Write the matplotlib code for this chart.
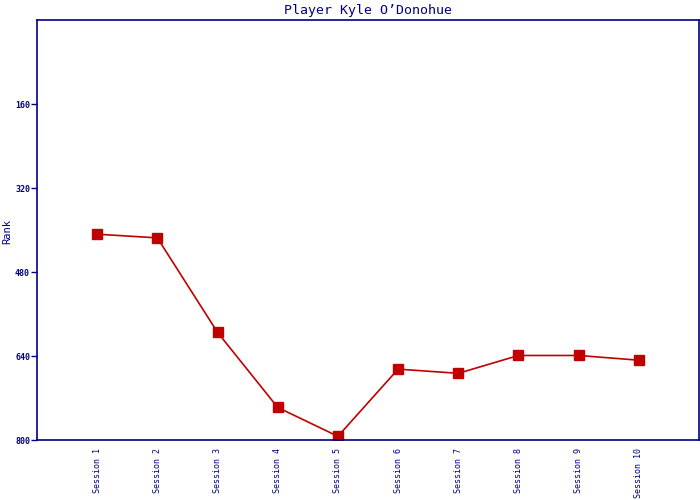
import matplotlib
matplotlib.use("Agg")
import matplotlib.pyplot as plt

sessions = ["Session %d" % i for i in range(1, 11)]
ranks = [408, 415, 595, 738, 793, 665, 673, 639, 639, 648]
y_ticks = [160, 320, 480, 640, 800]

navy = "#000080"
red = "#c00000"
mono = "DejaVu Sans Mono"

fig = plt.figure(figsize=(7, 5), dpi=100)
ax = fig.add_axes([37 / 700, 60 / 500, 662 / 700, 420 / 500])

xs = list(range(1, len(sessions) + 1))
ax.plot(xs, ranks, color=red, lw=1.2, marker="s", ms=7, mec=red, mfc=red)

ax.set_xlim(0, 11)
ax.set_ylim(800, 0)
ax.set_yticks(y_ticks)
ax.set_yticklabels([str(v) for v in y_ticks], fontsize=6, fontfamily=mono,
                   color=navy, fontweight="bold")
ax.set_xticks(xs)
ax.set_xticklabels(sessions, rotation=90, fontsize=6, fontfamily=mono,
                   color=navy)
ax.tick_params(axis="y", length=4, width=1, color=navy, pad=1)
ax.tick_params(axis="x", length=0, pad=6)

for s in ax.spines.values():
    s.set_color(navy)
    s.set_linewidth(1.2)

ax.set_title("Player Kyle O\u2019Donohue", fontsize=9.5, fontfamily=mono,
             color=navy, pad=4)
ax.set_ylabel("Rank", fontsize=7.5, fontfamily=mono, color=navy)
ax.yaxis.set_label_coords(-25 / 662, (440 - 231) / 420)

fig.savefig("out.png", dpi=100)
